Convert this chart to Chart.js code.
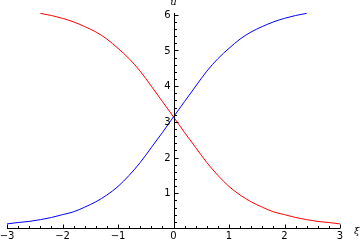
<!DOCTYPE html>
<html>
<head>
<meta charset="utf-8">
<script src="https://cdn.jsdelivr.net/npm/chart.js@4"></script>
<style>
  body { margin: 0; background: #fff; }
  #wrap { width: 362px; height: 242px; position: relative; }
</style>
</head>
<body>
<div id="wrap"><canvas id="kinkChart"></canvas></div>
<script>
// values
const xiBlue = [-3.0, -2.8, -2.6, -2.4, -2.2, -2.0, -1.8, -1.6, -1.4, -1.2, -1.0, -0.8, -0.6, -0.4, -0.2,
                0.0, 0.2, 0.4, 0.6, 0.8, 1.0, 1.2, 1.4, 1.6, 1.8, 2.0, 2.2, 2.4];
const uBlue = [0.14, 0.18, 0.21, 0.26, 0.32, 0.40, 0.48, 0.61, 0.76, 0.95, 1.19, 1.50, 1.86, 2.28, 2.70,
               3.14, 3.57, 4.00, 4.42, 4.77, 5.06, 5.32, 5.52, 5.67, 5.80, 5.90, 5.98, 6.04];

const xiRed = [-2.4, -2.2, -2.0, -1.8, -1.6, -1.4, -1.2, -1.0, -0.8, -0.6, -0.4, -0.2, 0.0,
               0.2, 0.4, 0.6, 0.8, 1.0, 1.2, 1.4, 1.6, 1.8, 2.0, 2.2, 2.4, 2.6, 2.8, 3.0];
const uRed = [6.04, 5.98, 5.90, 5.80, 5.67, 5.52, 5.32, 5.06, 4.77, 4.42, 4.00, 3.57, 3.14,
              2.70, 2.28, 1.86, 1.50, 1.19, 0.95, 0.76, 0.61, 0.48, 0.40, 0.32, 0.26, 0.21, 0.18, 0.14];

const xTickLabels = [-3, -2, -1, 0, 1, 2, 3];
const yTickLabels = [1, 2, 3, 4, 5, 6];
const xLabel = 'ξ';
const yLabel = 'u';

function toPoints(xs, ys) {
    return xs.map((x, i) => ({ x: x, y: ys[i] }));
}

// Mathematica style axes: crossing at the origin, ticks pointing inwards
const axesPlugin = {
    id: 'mmaAxes',
    afterDraw(chart) {
        const ctx = chart.ctx;
        const xs = chart.scales.x;
        const ys = chart.scales.y;
        const x0 = Math.round(xs.getPixelForValue(0)) + 0.5;
        const yb = Math.round(ys.getPixelForValue(ys.min)) + 0.5;
        const yt = ys.getPixelForValue(ys.max);

        ctx.save();
        ctx.strokeStyle = '#000';
        ctx.lineWidth = 1;
        ctx.beginPath();
        ctx.moveTo(xs.getPixelForValue(xs.min), yb);
        ctx.lineTo(xs.getPixelForValue(xs.max), yb);
        ctx.moveTo(x0, yb);
        ctx.lineTo(x0, yt);

        // x ticks
        for (let i = -15; i <= 15; i++) {
            const v = i / 5;
            const px = Math.round(xs.getPixelForValue(v)) + 0.5;
            const len = (i % 5 === 0) ? 4 : 2.5;
            ctx.moveTo(px, yb);
            ctx.lineTo(px, yb - len);
        }
        // y ticks
        for (let i = 1; i <= 30; i++) {
            const v = i / 5;
            if (v > ys.max) break;
            const py = Math.round(ys.getPixelForValue(v)) + 0.5;
            const len = (i % 5 === 0) ? 4 : 2.5;
            ctx.moveTo(x0, py);
            ctx.lineTo(x0 + len, py);
        }
        ctx.stroke();

        ctx.fillStyle = '#000';
        ctx.font = '10px "DejaVu Sans"';
        ctx.textAlign = 'center';
        ctx.textBaseline = 'top';
        xTickLabels.forEach(v => {
            const txt = v < 0 ? '\u2212' + Math.abs(v) : String(v);
            ctx.fillText(txt, xs.getPixelForValue(v), yb + 3);
        });
        ctx.textAlign = 'right';
        ctx.textBaseline = 'middle';
        yTickLabels.forEach(v => {
            ctx.fillText(String(v), x0 - 4, ys.getPixelForValue(v) + 0.5);
        });

        ctx.font = 'italic 10px "DejaVu Serif"';
        ctx.textAlign = 'left';
        ctx.fillText(xLabel, xs.getPixelForValue(xs.max) + 14, yb + 3);
        ctx.textAlign = 'center';
        ctx.fillText(yLabel, x0 - 1, 2);
        ctx.restore();
    }
};

const ctx = document.getElementById('kinkChart').getContext('2d');
const myChart = new Chart(ctx, {
    type: 'line',
    data: {
        datasets: [{
            label: 'blue',
            data: toPoints(xiBlue, uBlue),
            borderColor: '#0000ff',
            borderWidth: 1,
            pointRadius: 0,
            fill: false,
            cubicInterpolationMode: 'monotone'
        }, {
            label: 'red',
            data: toPoints(xiRed, uRed),
            borderColor: '#ff0000',
            borderWidth: 1,
            pointRadius: 0,
            fill: false,
            cubicInterpolationMode: 'monotone'
        }]
    },
    options: {
        responsive: true,
        maintainAspectRatio: false,
        animation: false,
        layout: { padding: { left: 7, right: 22, top: 13, bottom: 14.5 } },
        plugins: {
            legend: { display: false },
            tooltip: { enabled: false }
        },
        scales: {
            x: { type: 'linear', min: -3, max: 3, display: false },
            y: { type: 'linear', min: 0.04, max: 6.05, display: false }
        }
    },
    plugins: [axesPlugin]
});
</script>
</body>
</html>
